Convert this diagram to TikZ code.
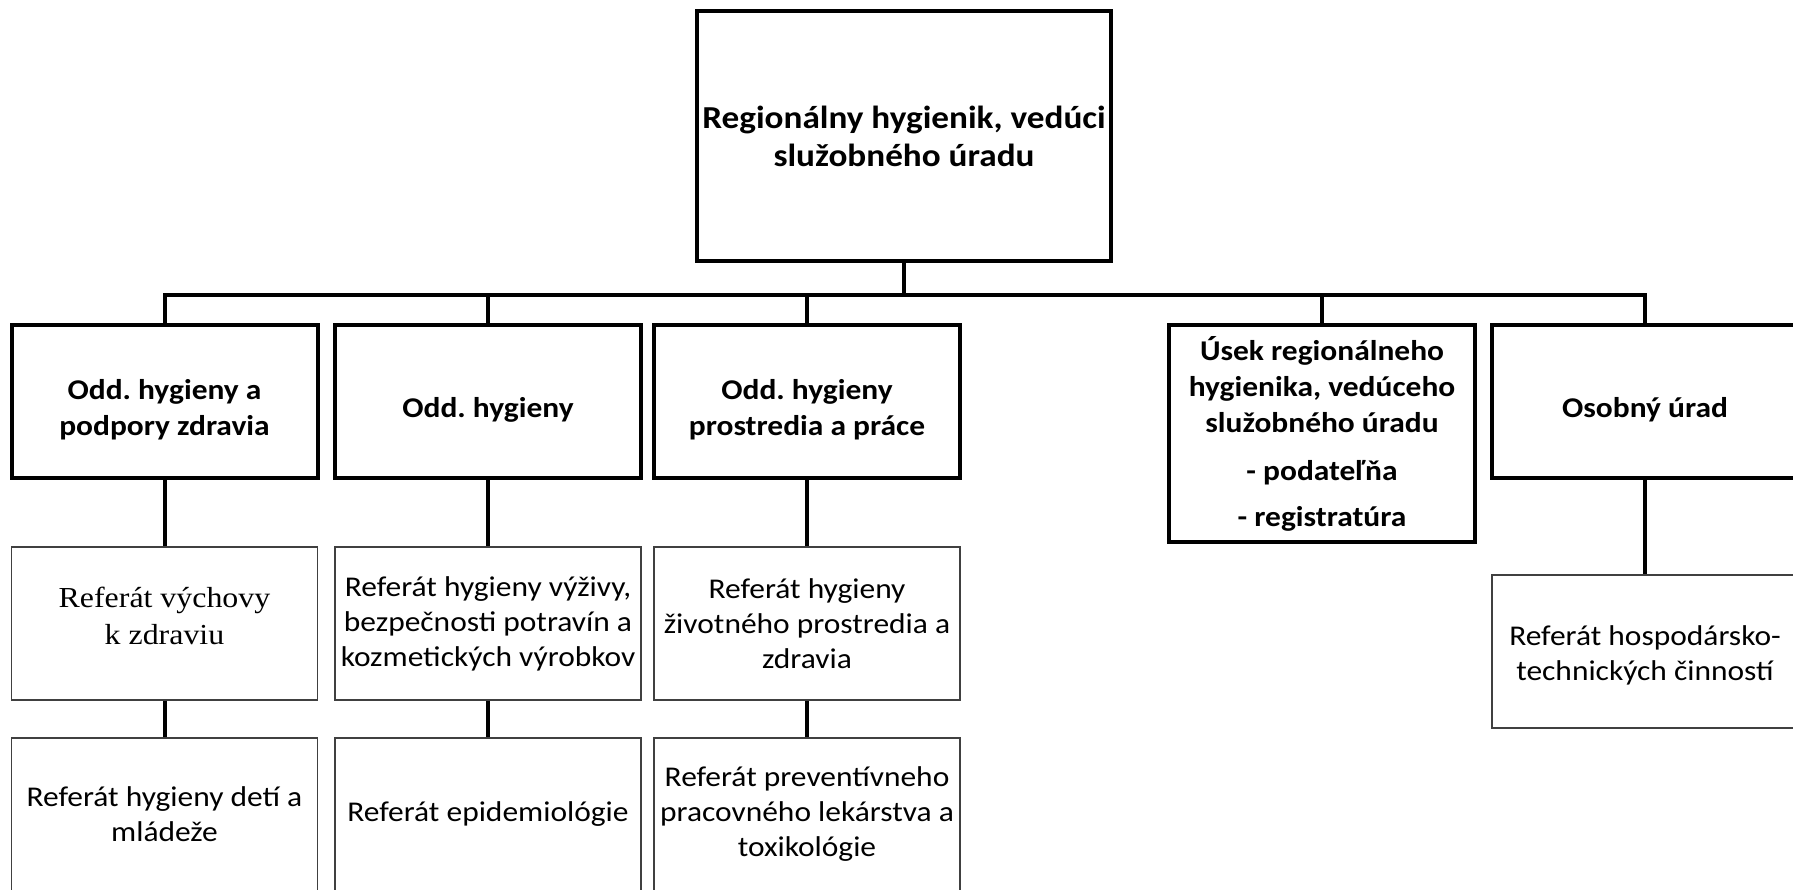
\documentclass[tikz,border=0pt]{standalone}
\usepackage{fontspec}
\setmainfont{Carlito}[FakeStretch=1.1]
\newfontfamily\tnrfont{Liberation Serif}[FakeStretch=1.1]
\frenchspacing
\newcommand{\downstrut}[1]{\rule{0pt}{#1}}
\newcommand{\upstrut}[1]{\rule[-#1]{0pt}{#1}}
\begin{document}
\begin{tikzpicture}[x=1pt,y=-1pt,
  topbox/.style={draw=black,line width=4pt,minimum width=414pt,minimum height=250pt,inner sep=0pt,align=center,font=\bfseries\fontsize{32}{38}\selectfont},
  deptbox/.style={draw=black,line width=4pt,minimum width=306pt,minimum height=153pt,inner sep=0pt,align=center,font=\bfseries\fontsize{28.6}{36}\selectfont},
  refbox/.style={draw=black!75,line width=1.3pt,minimum width=306pt,minimum height=153pt,inner sep=0pt,align=center,font=\fontsize{28.6}{35}\selectfont},
  conn/.style={draw=black,line width=4pt}]
\useasboundingbox (0,0) rectangle (1793,890);
\clip (0,0) rectangle (1793,890);
% top
\node[topbox] (top) at (904,136) {Regionálny hygienik, vedúci\\služobného úradu};
% level 1
\node[deptbox] (d1) at (164.5,401.5) {\downstrut{37pt}Odd. hygieny a\\podpory zdravia};
\node[deptbox] (d2) at (488,401.5) {\downstrut{37pt}Odd. hygieny};
\node[deptbox] (d3) at (807,401.5) {\downstrut{37pt}Odd. hygieny\\prostredia a práce};
\node[deptbox,minimum height=217pt] (d4) at (1322,433.5) {Úsek regionálneho\\hygienika, vedúceho\\služobného úradu\\[12pt]- podateľňa\\[10pt]- registratúra};
\node[deptbox] (d5) at (1645,401.5) {\downstrut{37pt}Osobný úrad};
% level 2
\node[refbox,font=\tnrfont\fontsize{29}{37}\selectfont] (r11) at (164.5,623.5) {Referát výchovy\\k zdraviu\upstrut{15pt}};
\node[refbox] (r21) at (488,623.5) {Referát hygieny výživy,\\bezpečnosti potravín a\\kozmetických výrobkov};
\node[refbox] (r31) at (807,623.5) {Referát hygieny\\životného prostredia a\\zdravia};
\node[refbox] (r51) at (1645,651.5) {\downstrut{28pt}Referát hospodársko-\\technických činností};
% level 3
\node[refbox] (r12) at (164.5,814.5) {Referát hygieny detí a\\mládeže};
\node[refbox] (r22) at (488,814.5) {Referát epidemiológie};
\node[refbox] (r32) at (807,814.5) {Referát preventívneho\\pracovného lekárstva a\\toxikológie};
% connectors
\coordinate (bar) at (904,295);
\draw[conn] (top.south) -- (top.south |- bar);
\draw[conn] (d1.north) -- (d1.north |- bar) -- (d5.north |- bar) -- (d5.north);
\draw[conn] (d2.north) -- (d2.north |- bar);
\draw[conn] (d3.north) -- (d3.north |- bar);
\draw[conn] (d4.north) -- (d4.north |- bar);
\draw[conn] (d1.south) -- (r11.north);
\draw[conn] (r11.south) -- (r12.north);
\draw[conn] (d2.south) -- (r21.north);
\draw[conn] (r21.south) -- (r22.north);
\draw[conn] (d3.south) -- (r31.north);
\draw[conn] (r31.south) -- (r32.north);
\draw[conn] (d5.south) -- (r51.north);
\end{tikzpicture}
\end{document}
